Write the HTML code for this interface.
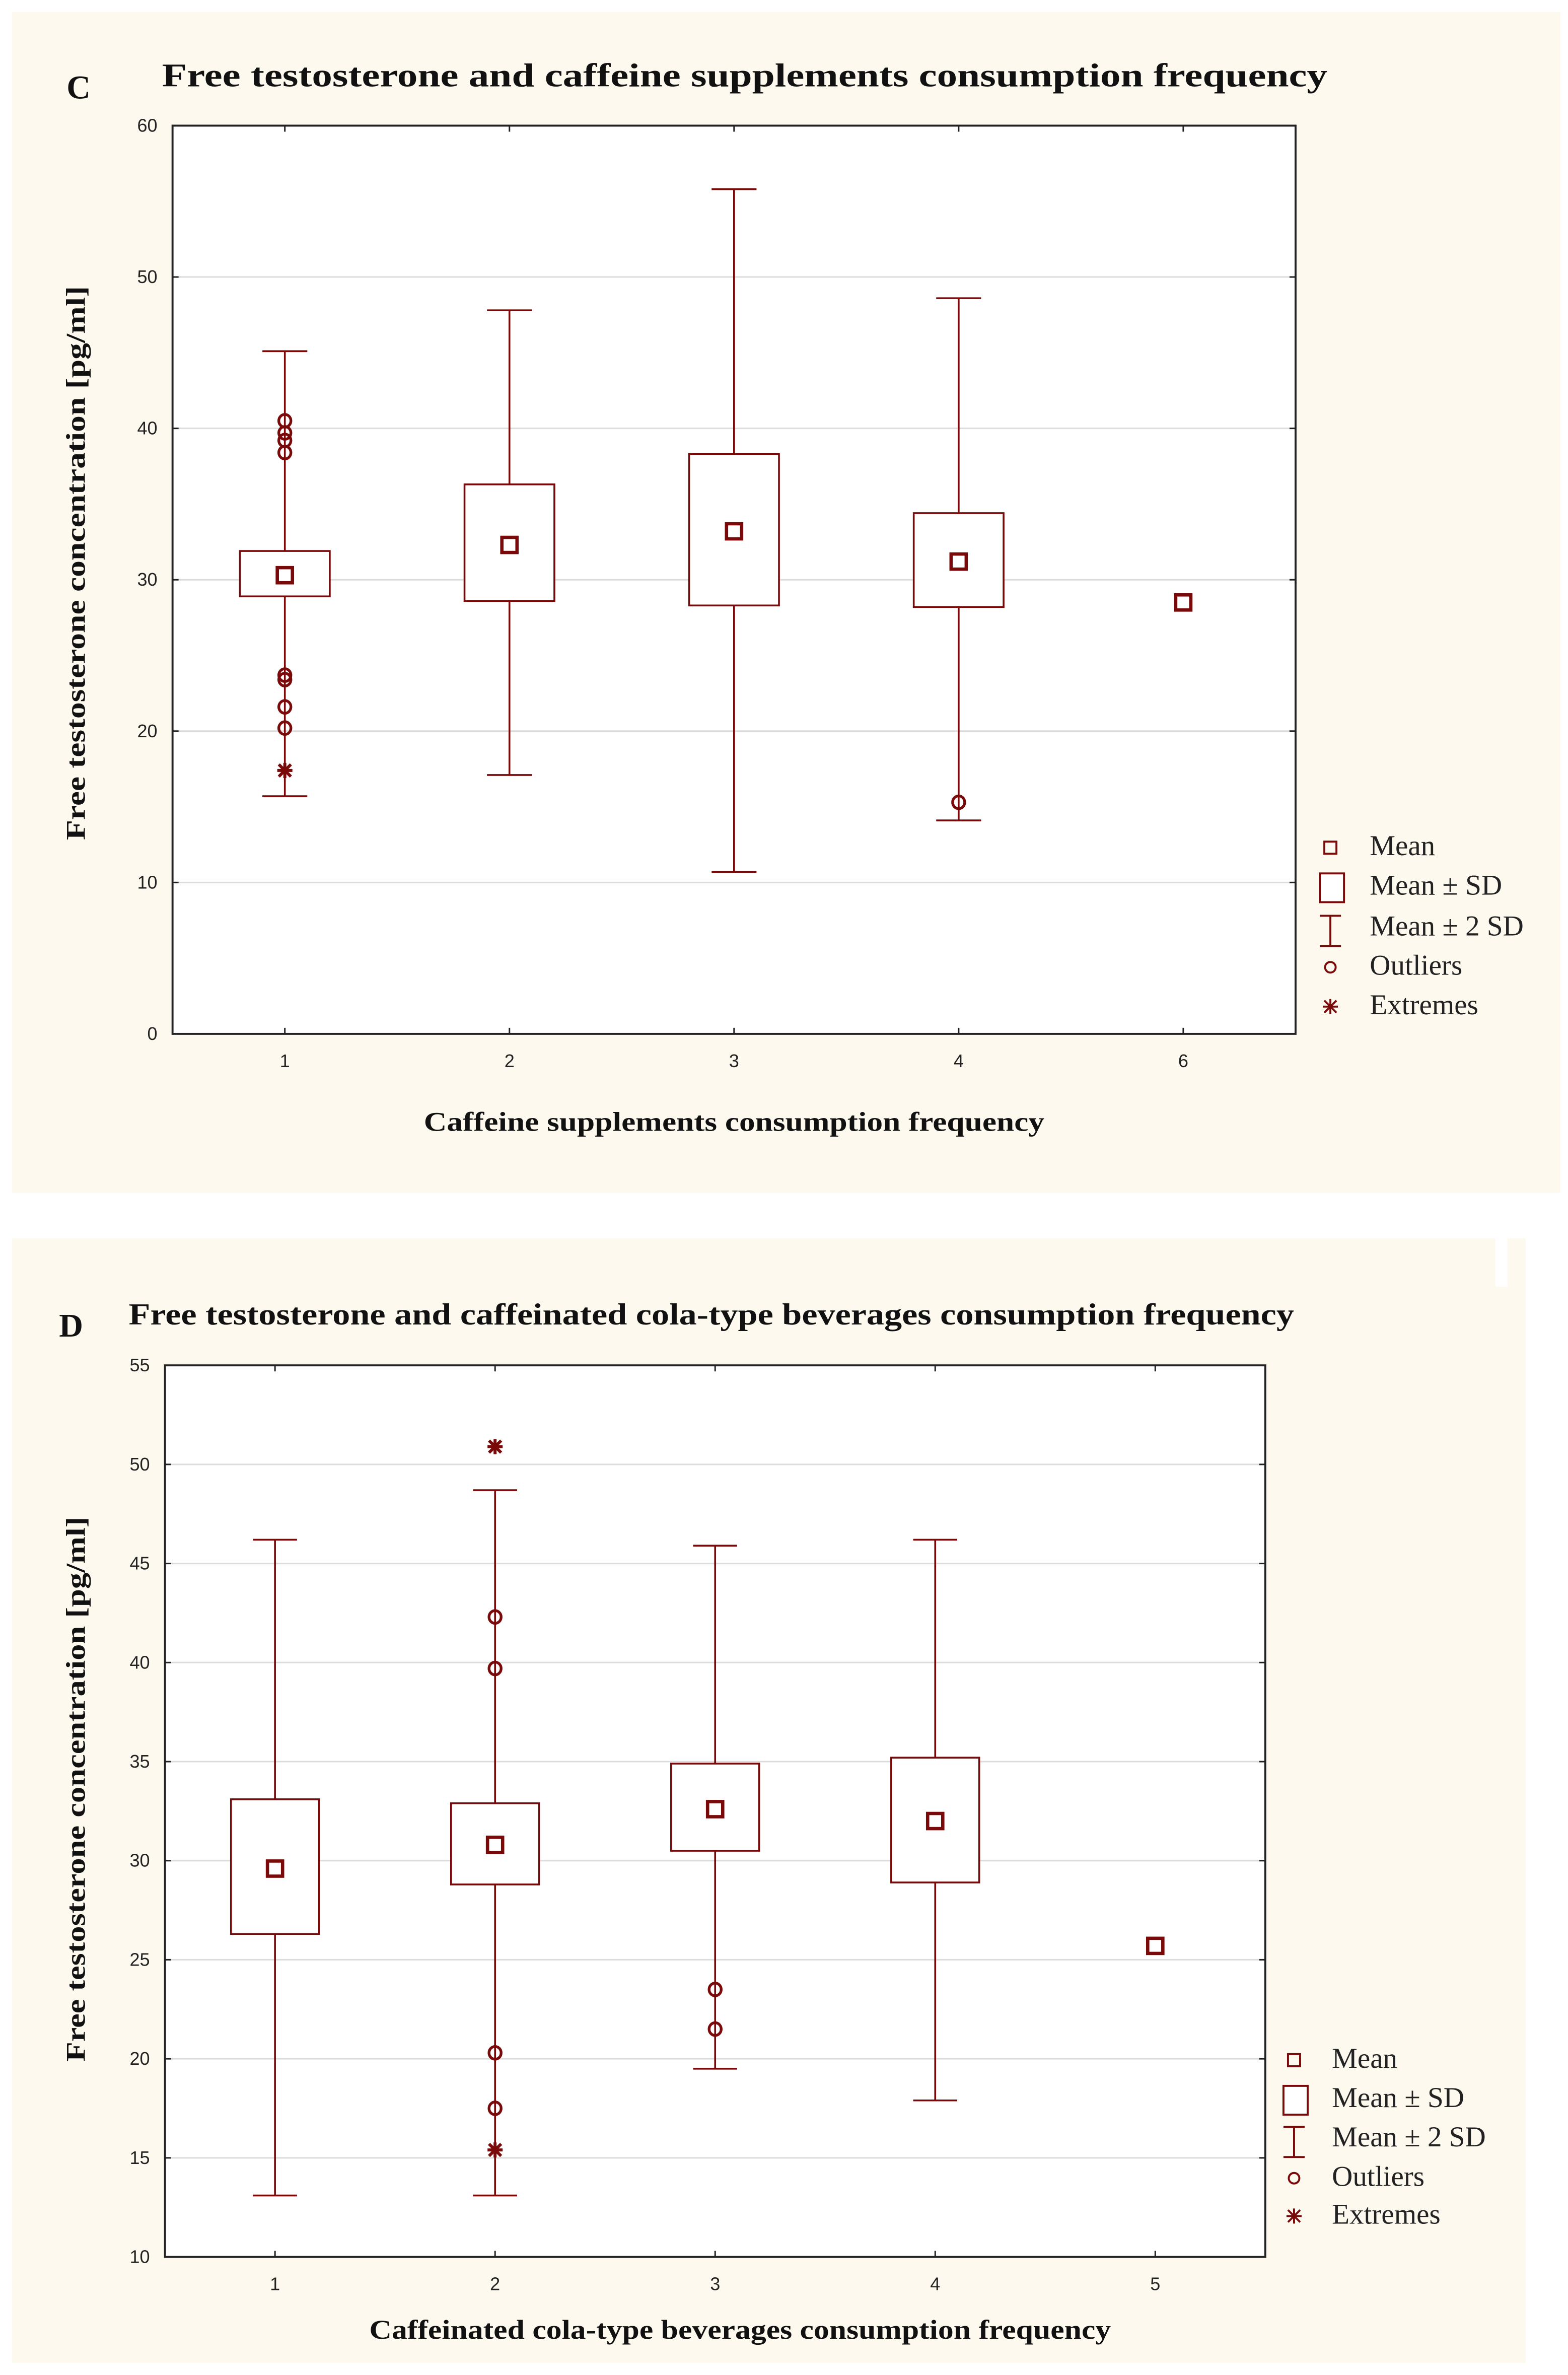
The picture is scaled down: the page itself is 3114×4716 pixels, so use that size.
<!DOCTYPE html>
<html><head><meta charset="utf-8">
<style>
html,body{margin:0;padding:0;background:#fff;}
svg{display:block;}
.ser{font-family:"Liberation Serif",serif;}
.sans{font-family:"Liberation Sans",sans-serif;}
</style></head>
<body>
<svg id="fig" width="3114" height="4716" viewBox="0 0 1036 1569" preserveAspectRatio="none" xmlns="http://www.w3.org/2000/svg">
<rect x="0" y="0" width="1036" height="1569" fill="#ffffff"/>
<rect x="8" y="8" width="1023" height="780" fill="#fdf9ee"/>
<rect x="8" y="818" width="1000" height="743" fill="#fdf9ee"/>
<rect x="988" y="818" width="8" height="32" fill="#ffffff"/>
<g id="chartC"></g>
<g id="chartD"></g>
</svg>
<script>
// ---- Panel C data ----
const catsC = ["1","2","3","4","6"];
const meanC = [30.3, 32.3, 33.2, 31.2, 28.5];
const sdLoC = [28.9, 28.6, 28.3, 28.2, null];
const sdHiC = [31.9, 36.3, 38.3, 34.4, null];
const wLoC = [15.7, 17.1, 10.7, 14.1, null];
const wHiC = [45.1, 47.8, 55.8, 48.6, null];
const outCatC = [0,0,0,0,0,0,0,0,3];
const outValC = [40.5, 39.7, 39.2, 38.4, 23.7, 23.4, 21.6, 20.2, 15.3];
const extCatC = [0];
const extValC = [17.4];
const yTicksC = [0,10,20,30,40,50,60];
// ---- Panel D data ----
const catsD = ["1","2","3","4","5"];
const meanD = [29.6, 30.8, 32.6, 32.0, 25.7];
const sdLoD = [26.3, 28.8, 30.5, 28.9, null];
const sdHiD = [33.1, 32.9, 34.9, 35.2, null];
const wLoD = [13.1, 13.1, 19.5, 17.9, null];
const wHiD = [46.2, 48.7, 45.9, 46.2, null];
const outCatD = [1,1,1,1,2,2];
const outValD = [42.3, 39.7, 20.3, 17.5, 23.5, 21.5];
const extCatD = [1,1];
const extValD = [50.9, 15.4];
const yTicksD = [10,15,20,25,30,35,40,45,50,55];

const NS = "http://www.w3.org/2000/svg";
const RED = "#7a0a0a";
function mk(parent, tag, attrs, text){
  const e = document.createElementNS(NS, tag);
  for (const k in attrs) e.setAttribute(k, attrs[k]);
  if (text !== undefined) e.textContent = text;
  parent.appendChild(e);
  return e;
}

function drawChart(g, cfg){
  const {L,R,T,B,ymin,ymax,cats,mean,sdLo,sdHi,wLo,wHi,outCat,outVal,extCat,extVal,yTicks} = cfg;
  const n = cats.length;
  const slot = (R-L)/n;
  const xs = i => L + (i+0.5)*slot;
  const ys = v => B - (v-ymin)/(ymax-ymin)*(B-T);
  mk(g,"rect",{x:L,y:T,width:R-L,height:B-T,fill:"#fff"});
  yTicks.forEach(t=>{
    const y = ys(t);
    if (t!==ymin && t!==ymax) {
      const gl = mk(g,"line",{x1:L,x2:R,y1:y,y2:y,stroke:"#dcdcdc","stroke-width":1});
      
      
    }
    mk(g,"line",{x1:L,x2:L+4,y1:y,y2:y,stroke:"#222","stroke-width":1});
    mk(g,"line",{x1:R-4,x2:R,y1:y,y2:y,stroke:"#222","stroke-width":1});
    const tl = mk(g,"text",{x:L-10,y:y+4,"text-anchor":"end","font-size":12,class:"sans",fill:"#222"}, String(t));
    
    
  });
  cats.forEach((c,i)=>{
    const x = xs(i);
    mk(g,"line",{x1:x,x2:x,y1:B,y2:B-4,stroke:"#222","stroke-width":1});
    mk(g,"line",{x1:x,x2:x,y1:T,y2:T+4,stroke:"#222","stroke-width":1});
    const tl = mk(g,"text",{x:x,y:B+22,"text-anchor":"middle","font-size":12,class:"sans",fill:"#222"}, c);
    
    
  });
  const bw = slot*0.4, cw = slot*0.2;
  cats.forEach((c,i)=>{
    const x = xs(i);
    const grp = mk(g,"g",{});
    
    
    if (wLo[i]!==null){
      mk(grp,"line",{x1:x,x2:x,y1:ys(wHi[i]),y2:ys(sdHi[i]),stroke:RED,"stroke-width":1.2});
      mk(grp,"line",{x1:x,x2:x,y1:ys(sdLo[i]),y2:ys(wLo[i]),stroke:RED,"stroke-width":1.2});
      mk(grp,"line",{x1:x-cw/2,x2:x+cw/2,y1:ys(wHi[i]),y2:ys(wHi[i]),stroke:RED,"stroke-width":1.2});
      mk(grp,"line",{x1:x-cw/2,x2:x+cw/2,y1:ys(wLo[i]),y2:ys(wLo[i]),stroke:RED,"stroke-width":1.2});
      mk(grp,"rect",{x:x-bw/2,y:ys(sdHi[i]),width:bw,height:ys(sdLo[i])-ys(sdHi[i]),fill:"#fff",stroke:RED,"stroke-width":1.2});
    }
    const m = mk(grp,"rect",{x:x-5,y:ys(mean[i])-5,width:10,height:10,fill:"none",stroke:RED,"stroke-width":2.2});
    
    
  });
  outVal.forEach((v,k)=>{
    const o = mk(g,"ellipse",{cx:xs(outCat[k]),cy:ys(v),rx:4,ry:4.2,fill:"none",stroke:RED,"stroke-width":1.8});
    
    
  });
  extVal.forEach((v,k)=>{
    const x = xs(extCat[k]), y = ys(v);
    const e = mk(g,"path",{d:`M${x-5} ${y}H${x+5}M${x} ${y-5}V${y+5}M${x-4} ${y-4}L${x+4} ${y+4}M${x-4} ${y+4}L${x+4} ${y-4}`,stroke:RED,"stroke-width":2});
    
    
  });
  mk(g,"rect",{x:L,y:T,width:R-L,height:B-T,fill:"none",stroke:"#222","stroke-width":1.3});
}

function legend(g, sx, tx, rows){
  const lg = mk(g,"g",{});
  
  
  const [r0,r1,r2,r3,r4] = rows;
  mk(lg,"rect",{x:sx-4,y:r0-9,width:8,height:8,fill:"none",stroke:RED,"stroke-width":1.3});
  mk(lg,"rect",{x:sx-7,y:r1-14,width:16,height:19,fill:"#fff",stroke:RED,"stroke-width":1.3});
  mk(lg,"path",{d:`M${sx-7} ${r2-13}H${sx+7}M${sx} ${r2-13}V${r2+7}M${sx-7} ${r2+7}H${sx+7}`,stroke:RED,"stroke-width":1.3,fill:"none"});
  mk(lg,"circle",{cx:sx,cy:r3-5,r:3.5,fill:"none",stroke:RED,"stroke-width":1.3});
  mk(lg,"path",{d:`M${sx-5} ${r4-5}H${sx+5}M${sx} ${r4-10}V${r4}M${sx-4} ${r4-9}L${sx+4} ${r4-1}M${sx-4} ${r4-1}L${sx+4} ${r4-9}`,stroke:RED,"stroke-width":1.3});
  const labels = ["Mean","Mean \u00b1 SD","Mean \u00b1 2 SD","Outliers","Extremes"];
  labels.forEach((t,i)=>{
    const e = mk(lg,"text",{x:tx,y:rows[i],"font-size":19,class:"ser",fill:"#222"},t);
    
    
  });
}

const gC = document.getElementById("chartC");
mk(gC,"text",{x:44,y:65,"font-size":22,class:"ser",fill:"#111","font-weight":"bold"},"C");
const tC = mk(gC,"text",{x:107,y:57,"font-size":22,class:"ser","font-weight":"bold",fill:"#111",textLength:770,lengthAdjust:"spacingAndGlyphs"},"Free testosterone and caffeine supplements consumption frequency");


drawChart(gC,{L:114,R:856,T:83,B:683,ymin:0,ymax:60,cats:catsC,mean:meanC,sdLo:sdLoC,sdHi:sdHiC,wLo:wLoC,wHi:wHiC,outCat:outCatC,outVal:outValC,extCat:extCatC,extVal:extValC,yTicks:yTicksC});
const xlC = mk(gC,"text",{x:485,y:747,"text-anchor":"middle","font-size":18,class:"ser","font-weight":"bold",fill:"#111",textLength:410,lengthAdjust:"spacingAndGlyphs"},"Caffeine supplements consumption frequency");


const ylC = mk(gC,"text",{x:0,y:0,transform:"translate(56,372) rotate(-90)","text-anchor":"middle","font-size":18,class:"ser","font-weight":"bold",fill:"#111",textLength:366,lengthAdjust:"spacingAndGlyphs"},"Free testosterone concentration [pg/ml]");


legend(gC, 879, 905, [565,591,618,644,670]);

const gD = document.getElementById("chartD");
mk(gD,"text",{x:39,y:883,"font-size":22,class:"ser",fill:"#111","font-weight":"bold"},"D");
const tD = mk(gD,"text",{x:85,y:875,"font-size":20,class:"ser","font-weight":"bold",fill:"#111",textLength:770,lengthAdjust:"spacingAndGlyphs"},"Free testosterone and caffeinated cola-type beverages consumption frequency");


drawChart(gD,{L:109,R:836,T:902,B:1491,ymin:10,ymax:55,cats:catsD,mean:meanD,sdLo:sdLoD,sdHi:sdHiD,wLo:wLoD,wHi:wHiD,outCat:outCatD,outVal:outValD,extCat:extCatD,extVal:extValD,yTicks:yTicksD});
const xlD = mk(gD,"text",{x:489,y:1545,"text-anchor":"middle","font-size":18,class:"ser","font-weight":"bold",fill:"#111",textLength:490,lengthAdjust:"spacingAndGlyphs"},"Caffeinated cola-type beverages consumption frequency");


const ylD = mk(gD,"text",{x:0,y:0,transform:"translate(56,1182) rotate(-90)","text-anchor":"middle","font-size":18,class:"ser","font-weight":"bold",fill:"#111",textLength:360,lengthAdjust:"spacingAndGlyphs"},"Free testosterone concentration [pg/ml]");


legend(gD, 855, 880, [1366,1392,1418,1444,1469]);
</script>
</body></html>
